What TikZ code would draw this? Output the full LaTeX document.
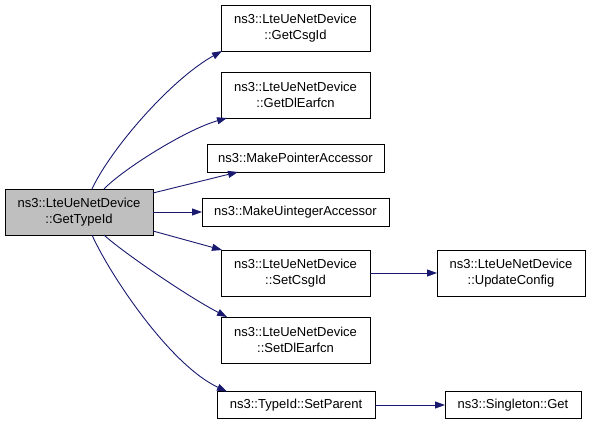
\documentclass[tikz,border=0pt]{standalone}
\usepackage{fontspec}
\setmainfont{Liberation Sans}
\usetikzlibrary{arrows.meta}
\definecolor{edgeblue}{HTML}{191970}
\definecolor{rootgray}{HTML}{BFBFBF}
\begin{document}
\begin{tikzpicture}[x=1pt,y=-1pt,
  box/.style={draw=black, line width=0.9pt, inner sep=0pt, outer sep=0pt, align=center,
    font=\fontsize{13}{16}\selectfont, text=black, fill=white},
  call/.style={draw=edgeblue, line width=0.9pt, -{Triangle[length=10pt,width=7pt]}, fill=none}]
\useasboundingbox (0,0) rectangle (592,424);
\node[box, fill=rootgray, minimum width=148pt, minimum height=46pt] (root) at (79,212) {ns3::LteUeNetDevice\\::GetTypeId};
\node[box, minimum width=149pt, minimum height=46pt] (csg) at (295.5,28) {ns3::LteUeNetDevice\\::GetCsgId};
\node[box, minimum width=149pt, minimum height=46pt] (dle) at (295.5,95) {ns3::LteUeNetDevice\\::GetDlEarfcn};
\node[box, minimum width=177pt, minimum height=28pt] (mpa) at (295.5,158) {ns3::MakePointerAccessor};
\node[box, minimum width=187pt, minimum height=28pt] (mua) at (295.5,212) {ns3::MakeUintegerAccessor};
\node[box, minimum width=149pt, minimum height=46pt] (scs) at (295.5,273) {ns3::LteUeNetDevice\\::SetCsgId};
\node[box, minimum width=148pt, minimum height=46pt] (upd) at (511,273) {ns3::LteUeNetDevice\\::UpdateConfig};
\node[box, minimum width=149pt, minimum height=46pt] (sdl) at (295.5,340) {ns3::LteUeNetDevice\\::SetDlEarfcn};
\node[box, minimum width=158pt, minimum height=27pt] (spa) at (296,405) {ns3::TypeId::SetParent};
\node[box, minimum width=136pt, minimum height=27pt] (sgt) at (513,405) {ns3::Singleton::Get};

\draw[call] ([xshift=13pt]root.north) .. controls (110,150) and (170,80) .. ([xshift=1pt]csg.south west);
\draw[call] ([xshift=25pt]root.north) .. controls (122,170) and (185,130) .. ([xshift=6pt]dle.south west);
\draw[call] ([yshift=19pt]root.east) -- ([xshift=31pt]mpa.south west);
\draw[call] (root) -- (mua);
\draw[call] ([yshift=-19pt]root.east) -- ([xshift=1pt]scs.north west);
\draw[call] ([xshift=25pt]root.south) .. controls (120,250) and (185,295) .. ([xshift=6pt]sdl.north west);
\draw[call] ([xshift=13pt]root.south) .. controls (110,275) and (170,365) .. ([xshift=10pt]spa.north west);
\draw[call] (scs) -- (upd);
\draw[call] (spa) -- (sgt);
\end{tikzpicture}
\end{document}
